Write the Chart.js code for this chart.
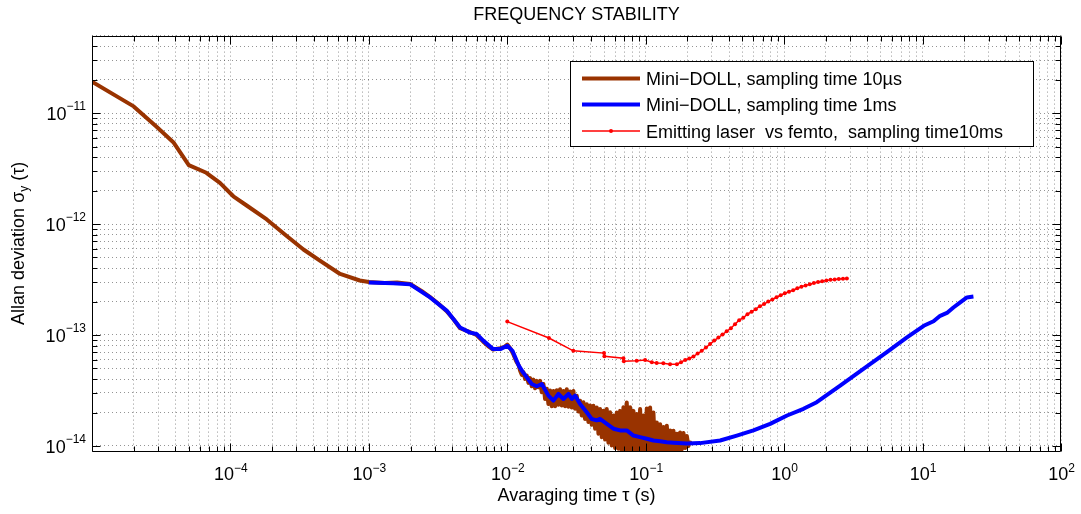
<!DOCTYPE html>
<html>
<head>
<meta charset="utf-8">
<script src="https://cdn.jsdelivr.net/npm/chart.js@4.4.0/dist/chart.umd.min.js"></script>
<style>
  html, body { margin: 0; padding: 0; background: #ffffff; }
  canvas { display: block; }
</style>
</head>
<body>
<canvas id="chart" width="1081" height="514"></canvas>
<script>
const FONT = '"Liberation Sans", Arial, Helvetica, sans-serif';

// Mini-DOLL, sampling time 10 µs
const tau10us = [
  1.0e-5, 2.0e-5, 2.9e-5, 3.9e-5, 5.0e-5, 6.7e-5, 8.4e-5, 1.05e-4, 1.31e-4, 1.83e-4,
  2.55e-4, 3.37e-4, 4.4e-4, 6.2e-4, 8.6e-4, 1.0e-3, 1.3e-3, 1.6e-3, 1.99e-3, 2.4e-3,
  2.77e-3, 3.2e-3, 3.65e-3, 4.1e-3, 4.56e-3, 5.38e-3, 6.0e-3, 6.7e-3, 7.3e-3, 7.9e-3,
  8.9e-3, 9.5e-3, 1.0e-2, 1.05e-2, 1.1e-2, 1.16e-2, 1.21e-2,
  0.01238, 0.01273, 0.01308, 0.01345, 0.01382, 0.01421, 0.01461, 0.01502, 0.01545, 0.01588,
  0.01632, 0.01679, 0.01726, 0.01774, 0.01824, 0.01875, 0.01928, 0.01982, 0.02038, 0.02095,
  0.02155, 0.02215, 0.02277, 0.02341, 0.02407, 0.02475, 0.02544, 0.02616, 0.02689, 0.02765,
  0.02843, 0.02922, 0.03005, 0.03089, 0.03176, 0.03266, 0.03357, 0.03452, 0.03548, 0.03648,
  0.03751, 0.03856, 0.03965, 0.04076, 0.04191, 0.04309, 0.04429, 0.04554, 0.04682, 0.04814,
  0.04949, 0.05088, 0.05231, 0.05378, 0.05530, 0.05685, 0.05845, 0.06009, 0.06178, 0.06353,
  0.06531, 0.06715, 0.06903, 0.07097, 0.07297, 0.07501, 0.07713, 0.07929, 0.08153, 0.08381,
  0.08617, 0.08860, 0.09110, 0.09367, 0.09629, 0.09901, 0.1018, 0.1046, 0.1076, 0.1106,
  0.1137, 0.1169, 0.1202, 0.1236, 0.1271, 0.1306, 0.1343, 0.1381, 0.1420, 0.1460,
  0.1501, 0.1543, 0.1586, 0.1631, 0.1677, 0.1724, 0.1772, 0.1822, 0.1874, 0.1926,
  0.1980, 0.2036, 0.2093
];
const adev10us = [
  1.92e-11, 1.15e-11, 7.6e-12, 5.4e-12, 3.4e-12, 2.9e-12, 2.35e-12, 1.78e-12, 1.47e-12, 1.10e-12,
  7.8e-13, 5.9e-13, 4.7e-13, 3.55e-13, 3.1e-13, 3.0e-13, 2.95e-13, 2.98e-13, 2.88e-13, 2.5e-13,
  2.2e-13, 1.9e-13, 1.64e-13, 1.38e-13, 1.15e-13, 1.06e-13, 1.0e-13, 8.7e-14, 7.9e-14, 7.4e-14,
  7.6e-14, 7.8e-14, 8.2e-14, 7.6e-14, 6.8e-14, 5.8e-14, 5.3e-14,
  4.77e-14, 4.37e-14, 4.61e-14, 4.02e-14, 4.31e-14, 3.70e-14, 4.08e-14, 3.45e-14, 3.96e-14, 3.31e-14,
  3.86e-14, 3.38e-14, 3.86e-14, 3.05e-14, 3.62e-14, 2.65e-14, 3.27e-14, 2.39e-14, 3.16e-14, 2.28e-14,
  3.13e-14, 2.28e-14, 3.18e-14, 2.35e-14, 3.24e-14, 2.31e-14, 3.13e-14, 2.28e-14, 3.24e-14, 2.25e-14,
  3.09e-14, 2.22e-14, 3.13e-14, 2.16e-14, 2.84e-14, 2.04e-14, 2.55e-14, 1.88e-14, 2.48e-14, 1.75e-14,
  2.38e-14, 1.64e-14, 2.31e-14, 1.55e-14, 2.30e-14, 1.43e-14, 2.22e-14, 1.29e-14, 2.15e-14, 1.20e-14,
  2.08e-14, 1.14e-14, 2.15e-14, 1.07e-14, 2.01e-14, 1.01e-14, 1.88e-14, 9.58e-15, 2.00e-14, 9.45e-15,
  2.07e-14, 9.12e-15, 2.23e-14, 9.12e-15, 2.46e-14, 8.9e-15, 2.23e-14, 9.05e-15, 2.07e-14, 8.9e-15,
  1.94e-14, 9.05e-15, 2.15e-14, 8.9e-15, 1.88e-14, 9.05e-15, 2.18e-14, 8.9e-15, 2.22e-14, 9.05e-15,
  2.00e-14, 8.9e-15, 1.63e-14, 9.05e-15, 1.57e-14, 8.9e-15, 1.48e-14, 9.05e-15, 1.52e-14, 8.9e-15,
  1.38e-14, 9.05e-15, 1.37e-14, 9.05e-15, 1.29e-14, 9.12e-15, 1.32e-14, 9.3e-15, 1.31e-14, 9.58e-15,
  1.23e-14, 1.00e-14, 1.12e-14
];

// Mini-DOLL, sampling time 1 ms
const tau1ms = [
  1.0e-3, 1.5e-3, 1.99e-3, 2.77e-3, 3.65e-3, 4.56e-3, 5.38e-3, 6.0e-3, 6.7e-3, 7.9e-3,
  8.9e-3, 1.0e-2, 1.09e-2, 1.21e-2, 1.30e-2, 1.503e-2, 1.633e-2, 1.775e-2, 1.982e-2, 2.153e-2,
  2.339e-2, 2.544e-2, 2.766e-2, 2.924e-2, 3.090e-2, 3.355e-2, 3.747e-2, 4.074e-2, 4.426e-2, 4.674e-2,
  5.236e-2, 5.848e-2, 6.531e-2, 7.295e-2, 8.147e-2, 9.099e-2, 0.1018, 0.1137, 0.127, 0.1418,
  0.1584, 0.1981, 0.247, 0.345, 0.455, 0.60, 0.792, 1.05, 1.38, 1.72,
  2.54, 3.74, 5.52, 7.71, 10.2, 12.0, 13.4, 15.0, 16.7, 18.5,
  20.9, 23.3
];
const adev1ms = [
  2.97e-13, 2.93e-13, 2.86e-13, 2.18e-13, 1.66e-13, 1.17e-13, 1.05e-13, 1.02e-13, 8.9e-14, 7.46e-14,
  7.46e-14, 8.0e-14, 7.2e-14, 5.3e-14, 4.6e-14, 3.62e-14, 3.45e-14, 3.62e-14, 2.84e-14, 2.56e-14,
  2.94e-14, 2.65e-14, 2.94e-14, 2.65e-14, 2.84e-14, 2.39e-14, 2.01e-14, 1.75e-14, 1.70e-14, 1.75e-14,
  1.58e-14, 1.43e-14, 1.38e-14, 1.38e-14, 1.24e-14, 1.20e-14, 1.16e-14, 1.12e-14, 1.10e-14, 1.08e-14,
  1.07e-14, 1.05e-14, 1.06e-14, 1.12e-14, 1.24e-14, 1.38e-14, 1.58e-14, 1.88e-14, 2.16e-14, 2.48e-14,
  3.5e-14, 4.94e-14, 7.0e-14, 9.5e-14, 1.21e-13, 1.33e-13, 1.49e-13, 1.58e-13, 1.77e-13, 1.95e-13,
  2.18e-13, 2.22e-13
];

// Emitting laser vs femto, sampling time 10 ms
const tau10ms = [
  0.01, 0.02, 0.03, 0.050, 0.0503, 0.069, 0.0695, 0.0861, 0.099, 0.1107,
  0.12, 0.134, 0.15,
  0.1679, 0.1799, 0.1928, 0.2065, 0.2213, 0.2371, 0.2541, 0.2723, 0.2917, 0.3126,
  0.3350, 0.3589, 0.3846, 0.4121, 0.4416, 0.4732, 0.5070, 0.5433, 0.5821, 0.6237,
  0.6683, 0.7161, 0.7674, 0.8222, 0.8810, 0.9441, 1.0116, 1.0839, 1.1614, 1.2445,
  1.3335, 1.4289, 1.5311, 1.6406, 1.7579, 1.8836, 2.0184, 2.1627, 2.3174, 2.4831,
  2.6607, 2.8379
];
const adev10ms = [
  1.32e-13, 9.4e-14, 7.2e-14, 6.87e-14, 6.42e-14, 6.17e-14, 5.79e-14, 5.86e-14, 5.94e-14, 5.67e-14,
  5.6e-14, 5.57e-14, 5.45e-14,
  5.45e-14, 5.69e-14, 5.95e-14, 6.14e-14, 6.40e-14, 6.81e-14, 7.21e-14, 7.71e-14, 8.28e-14, 8.91e-14,
  9.48e-14, 1.01e-13, 1.08e-13, 1.15e-13, 1.25e-13, 1.36e-13, 1.43e-13, 1.54e-13, 1.62e-13, 1.71e-13,
  1.82e-13, 1.90e-13, 2.00e-13, 2.09e-13, 2.19e-13, 2.28e-13, 2.38e-13, 2.45e-13, 2.53e-13, 2.64e-13,
  2.72e-13, 2.80e-13, 2.87e-13, 2.94e-13, 3.01e-13, 3.05e-13, 3.10e-13, 3.14e-13, 3.17e-13, 3.20e-13,
  3.22e-13, 3.23e-13
];

const seriesLabels = [
  'Mini\u2212DOLL, sampling time 10\u00b5s',
  'Mini\u2212DOLL, sampling time 1ms',
  'Emitting laser \u00a0vs femto, \u00a0sampling time10ms'
];
const seriesColors = ['#993300', '#0000ff', '#ff0000'];

// Decade tick labels (powers of ten) on each axis
const xTickExponents = [-4, -3, -2, -1, 0, 1, 2];
const yTickExponents = [-14, -13, -12, -11];
const xRange = [1e-5, 1e2];
const yRange = [9.2e-15, 5e-11];

const chartTitle = 'FREQUENCY STABILITY';
const xTitle = 'Avaraging time \u03c4 (s)';
const yTitleMain = 'Allan deviation \u03c3';
const yTitleSub = 'y';
const yTitleTail = ' (\u03c4)';

// grid positions: 1..9 x 10^k inside the axis range
function logGrid(min, max) {
  const out = [];
  for (let e = Math.floor(Math.log10(min)); e <= Math.ceil(Math.log10(max)); e++) {
    for (let m = 1; m <= 9; m++) {
      const v = m * Math.pow(10, e);
      if (v >= min * 0.9999 && v <= max * 1.0001) out.push(v);
    }
  }
  return out;
}
const pairs = (xs, ys) => xs.map((x, i) => ({ x: x, y: ys[i] }));

function supText(e) {
  return e < 0 ? '\u2212' + Math.abs(e) : String(e);
}

// axes box, inward tick marks, power-of-ten labels, y title and legend
const axesDecor = {
  id: 'axesDecor',
  afterDraw(chart) {
    const ctx = chart.ctx;
    const a = chart.chartArea;
    const xs = chart.scales.x, ys = chart.scales.y;
    const L = Math.round(a.left) + 0.5, R = Math.round(a.right) - 0.5;
    const T = Math.round(a.top) + 0.5, B = Math.round(a.bottom) + 0.5;
    ctx.save();
    ctx.strokeStyle = '#000';
    ctx.lineWidth = 1;
    ctx.beginPath();
    ctx.rect(L, T, R - L, B - T);
    ctx.stroke();

    const isMajor = v => Math.abs(Math.log10(v) - Math.round(Math.log10(v))) < 1e-9;
    ctx.beginPath();
    xs.ticks.forEach(t => {
      const p = Math.round(xs.getPixelForValue(t.value)) + 0.5;
      const len = isMajor(t.value) ? 8 : 5;
      ctx.moveTo(p, B); ctx.lineTo(p, B - len);
      ctx.moveTo(p, T); ctx.lineTo(p, T + len);
    });
    ys.ticks.forEach(t => {
      const p = Math.round(ys.getPixelForValue(t.value)) + 0.5;
      const len = isMajor(t.value) ? 8 : 5;
      ctx.moveTo(L, p); ctx.lineTo(L + len, p);
      ctx.moveTo(R, p); ctx.lineTo(R - len, p);
    });
    ctx.stroke();

    const baseFont = '18px ' + FONT;
    const supFont = '12px ' + FONT;
    ctx.fillStyle = '#000';
    ctx.textBaseline = 'alphabetic';
    ctx.textAlign = 'left';

    // x labels: 10^e centred under the tick
    xTickExponents.forEach(e => {
      const p = xs.getPixelForValue(Math.pow(10, e));
      ctx.font = baseFont; const bw = ctx.measureText('10').width;
      ctx.font = supFont; const sw = ctx.measureText(supText(e)).width;
      const x0 = p - (bw + sw) / 2 + 0.5;
      ctx.font = baseFont; ctx.fillText('10', x0, a.bottom + 29);
      ctx.font = supFont; ctx.fillText(supText(e), x0 + bw, a.bottom + 21);
    });

    // y labels: 10^e right-aligned left of the axis
    yTickExponents.forEach(e => {
      const p = ys.getPixelForValue(Math.pow(10, e));
      ctx.font = baseFont; const bw = ctx.measureText('10').width;
      ctx.font = supFont; const sw = ctx.measureText(supText(e)).width;
      const xr = a.left - 6;
      ctx.font = baseFont; ctx.fillText('10', xr - sw - bw, p + 7);
      ctx.font = supFont; ctx.fillText(supText(e), xr - sw, p - 3);
    });

    // y title with subscript
    ctx.save();
    ctx.translate(24, (a.top + a.bottom) / 2);
    ctx.rotate(-Math.PI / 2);
    ctx.font = baseFont; const w1 = ctx.measureText(yTitleMain).width;
    const w3 = ctx.measureText(yTitleTail).width;
    ctx.font = supFont; const w2 = ctx.measureText(yTitleSub).width;
    let x = -(w1 + w2 + w3) / 2;
    ctx.font = baseFont; ctx.fillText(yTitleMain, x, 0); x += w1;
    ctx.font = supFont; ctx.fillText(yTitleSub, x, 4); x += w2;
    ctx.font = baseFont; ctx.fillText(yTitleTail, x, 0);
    ctx.restore();

    // legend box
    const bx = 570.5, by = 61.5, bw2 = 463, bh = 85;
    ctx.fillStyle = '#fff';
    ctx.fillRect(bx, by, bw2, bh);
    ctx.strokeStyle = '#000';
    ctx.lineWidth = 1;
    ctx.strokeRect(bx, by, bw2, bh);
    const rows = [78.5, 104.5, 131];
    chart.data.datasets.forEach((ds, i) => {
      const yy = rows[i];
      ctx.strokeStyle = ds.borderColor;
      ctx.lineWidth = ds.borderWidth;
      ctx.lineCap = 'butt';
      ctx.beginPath();
      ctx.moveTo(582, yy); ctx.lineTo(640, yy);
      ctx.stroke();
      if (ds.pointRadius > 0) {
        ctx.fillStyle = ds.borderColor;
        ctx.beginPath();
        ctx.arc(611, yy, ds.pointRadius, 0, Math.PI * 2);
        ctx.fill();
      }
      ctx.fillStyle = '#000';
      ctx.font = baseFont;
      ctx.fillText(ds.label, 646, yy + 6.5);
    });
    ctx.restore();
  }
};

const gridStyle = { color: 'rgba(0,0,0,0.42)', lineWidth: 1, drawTicks: false };

new Chart(document.getElementById('chart'), {
  type: 'line',
  data: {
    datasets: [
      { label: seriesLabels[0], data: pairs(tau10us, adev10us), borderColor: seriesColors[0],
        borderWidth: 4, pointRadius: 0, order: 3, clip: 0, borderJoinStyle: 'round' },
      { label: seriesLabels[1], data: pairs(tau1ms, adev1ms), borderColor: seriesColors[1],
        borderWidth: 4, pointRadius: 0, order: 2, clip: 0, borderJoinStyle: 'round' },
      { label: seriesLabels[2], data: pairs(tau10ms, adev10ms), borderColor: seriesColors[2],
        backgroundColor: seriesColors[2], borderWidth: 1.5, pointRadius: 2, pointBorderWidth: 0,
        pointBackgroundColor: seriesColors[2], order: 1, clip: 0 }
    ]
  },
  options: {
    responsive: false,
    animation: false,
    devicePixelRatio: 1,
    layout: { padding: { left: 0, right: 20, top: 0, bottom: 0 } },
    elements: { line: { tension: 0 } },
    plugins: {
      legend: { display: false },
      tooltip: { enabled: false },
      title: {
        display: true, text: chartTitle, color: '#000', fullSize: false,
        font: { family: FONT, size: 18, weight: 'normal' },
        padding: { top: 4, bottom: 10 }
      }
    },
    scales: {
      x: {
        type: 'logarithmic', position: 'bottom', min: xRange[0], max: xRange[1],
        afterBuildTicks: s => { s.ticks = logGrid(xRange[0], xRange[1]).map(v => ({ value: v })); },
        afterFit: s => { s.height = 63; },
        ticks: { display: false, autoSkip: false },
        grid: gridStyle,
        border: { display: false, dash: [1, 3] },
        title: { display: true, text: xTitle, color: '#000',
          font: { family: FONT, size: 18, weight: 'normal' }, padding: { top: 0, bottom: 7 } }
      },
      y: {
        type: 'logarithmic', position: 'left', min: yRange[0], max: yRange[1],
        afterBuildTicks: s => { s.ticks = logGrid(yRange[0], yRange[1]).map(v => ({ value: v })); },
        afterFit: s => { s.width = 92; },
        ticks: { display: false, autoSkip: false },
        grid: gridStyle,
        border: { display: false, dash: [1, 3] }
      }
    }
  },
  plugins: [axesDecor]
});
</script>
</body>
</html>
